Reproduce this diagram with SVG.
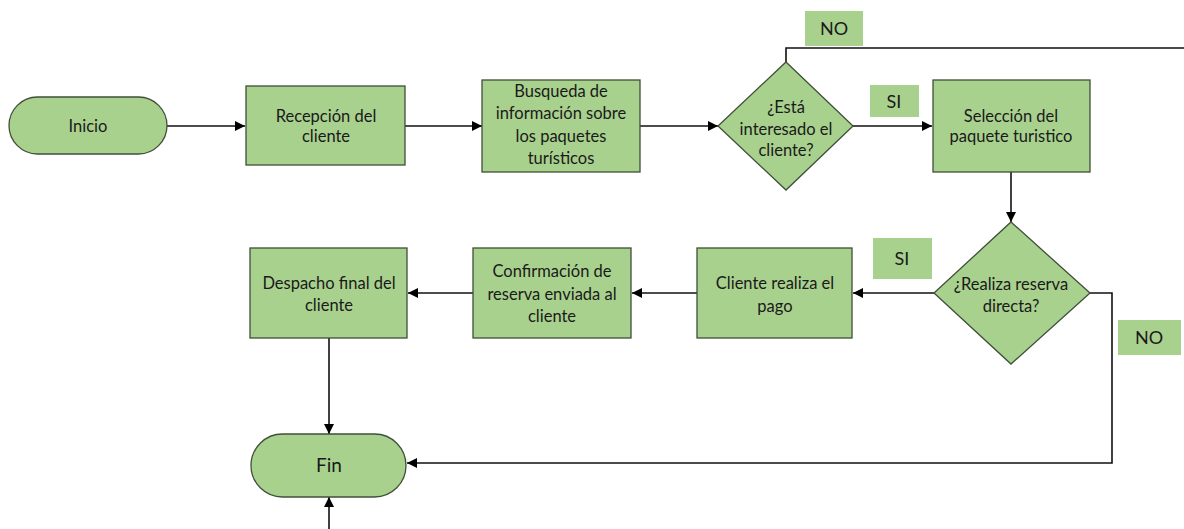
<svg xmlns="http://www.w3.org/2000/svg" width="1184" height="529" viewBox="0 0 1184 529">
<style>
.n{fill:#a9d18e;stroke:#3f4f38;stroke-width:1.3}
.lb{fill:#a9d18e}
.t{font-family:Lato,"Liberation Sans",sans-serif;font-size:16.5px;fill:#1a1a1a;text-anchor:middle}
.b{font-size:18px}
.c{fill:none;stroke:#111;stroke-width:1.6}
</style>
<defs>
<marker id="ah" viewBox="0 0 10 10" refX="10" refY="5" markerWidth="10" markerHeight="10" markerUnits="userSpaceOnUse" orient="auto">
<path d="M0,0 L10,5 L0,10 z" fill="#000"/>
</marker>
</defs>
<rect width="1184" height="529" fill="#fff"/>
<g id="connectors">
<line class="c" x1="167" y1="126" x2="245" y2="126" marker-end="url(#ah)"/>
<line class="c" x1="405" y1="126" x2="482" y2="126" marker-end="url(#ah)"/>
<line class="c" x1="640" y1="126" x2="718" y2="126" marker-end="url(#ah)"/>
<polyline class="c" points="786,62 786,48 1184,48"/>
<line class="c" x1="853" y1="126" x2="932" y2="126" marker-end="url(#ah)"/>
<line class="c" x1="1011" y1="172" x2="1011" y2="222" marker-end="url(#ah)"/>
<line class="c" x1="934" y1="293" x2="853" y2="293" marker-end="url(#ah)"/>
<line class="c" x1="697" y1="293" x2="632" y2="293" marker-end="url(#ah)"/>
<line class="c" x1="473" y1="293" x2="408" y2="293" marker-end="url(#ah)"/>
<polyline class="c" points="1090,293 1112,293 1112,463 407,463" marker-end="url(#ah)"/>
<line class="c" x1="329" y1="338" x2="329" y2="434" marker-end="url(#ah)"/>
<line class="c" x1="329" y1="529" x2="329" y2="497" marker-end="url(#ah)"/>
</g>
<g id="inicio"><rect class="n" x="9" y="97" width="158" height="57" rx="28.5"/><text class="t" x="88" y="132">Inicio</text></g>
<g id="recepcion"><rect class="n" x="246" y="86" width="159" height="79"/><text class="t" x="326" y="122">Recepción del</text><text class="t" x="326" y="142">cliente</text></g>
<g id="busqueda"><rect class="n" x="482" y="80" width="158" height="92"/><text class="t" x="561" y="97">Busqueda de</text><text class="t" x="561" y="119">información sobre</text><text class="t" x="561" y="142">los paquetes</text><text class="t" x="561" y="164">turísticos</text></g>
<g id="interesado"><polygon class="n" points="786,62 853,126 786,190 718,126"/><text class="t" x="786" y="113">¿Está</text><text class="t" x="786" y="135">interesado el</text><text class="t" x="786" y="156">cliente?</text></g>
<g id="label-no1"><rect class="lb" x="805" y="11" width="58" height="35"/><text class="t b" x="834" y="35">NO</text></g>
<g id="label-si1"><rect class="lb" x="870" y="85" width="49" height="32"/><text class="t b" x="894" y="108">SI</text></g>
<g id="seleccion"><rect class="n" x="933" y="80" width="157" height="92"/><text class="t" x="1011" y="122">Selección del</text><text class="t" x="1011" y="142">paquete turistico</text></g>
<g id="reserva"><polygon class="n" points="1011,222 1090,293 1011,364 934,293"/><text class="t" x="1011" y="290">¿Realiza reserva</text><text class="t" x="1011" y="312">directa?</text></g>
<g id="label-si2"><rect class="lb" x="873" y="238" width="59" height="41"/><text class="t b" x="902" y="265">SI</text></g>
<g id="label-no2"><rect class="lb" x="1118" y="320" width="63" height="35"/><text class="t b" x="1149" y="344">NO</text></g>
<g id="pago"><rect class="n" x="697" y="248" width="155" height="90"/><text class="t" x="775" y="289">Cliente realiza el</text><text class="t" x="775" y="312">pago</text></g>
<g id="confirmacion"><rect class="n" x="473" y="248" width="158" height="90"/><text class="t" x="552" y="277">Confirmación de</text><text class="t" x="552" y="300">reserva enviada al</text><text class="t" x="552" y="322">cliente</text></g>
<g id="despacho"><rect class="n" x="250" y="248" width="157" height="90"/><text class="t" x="329" y="289">Despacho final del</text><text class="t" x="329" y="311">cliente</text></g>
<g id="fin"><rect class="n" x="251" y="434" width="155" height="63" rx="31.5"/><text class="t" x="329" y="472" style="font-size:19px">Fin</text></g>
</svg>
